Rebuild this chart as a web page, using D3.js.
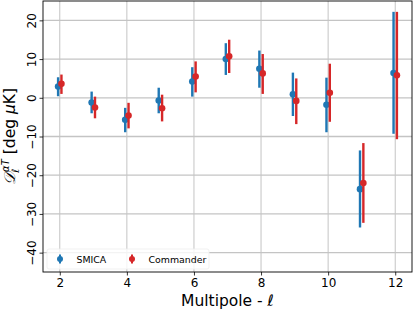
<!DOCTYPE html>
<html>
<head>
<meta charset="utf-8">
<script src="https://cdn.jsdelivr.net/npm/d3@7"></script>
<style>
  body { margin: 0; background: #fff; }
  text { font-family: "DejaVu Sans", sans-serif; }
</style>
</head>
<body>
<div id="chart"></div>
<script>
// multipoles
const ells = [2, 3, 4, 5, 6, 7, 8, 9, 10, 11, 12];

// SMICA: value, lower end, upper end of error bar
const smica_val = [2.9, -1.2, -5.7, -0.7, 4.2, 10.0, 7.5, 0.9, -1.8, -23.6, 6.4];
const smica_lo  = [0.4, -4.0, -8.9, -4.0, 0.3, 5.9, 2.6, -4.7, -8.9, -33.5, -9.3];
const smica_hi  = [5.3, 1.6, -2.6, 2.6, 7.9, 14.1, 12.2, 6.5, 5.2, -13.6, 22.2];

// Commander
const comm_val = [3.6, -2.5, -4.6, -2.7, 5.5, 10.7, 6.3, -0.8, 1.3, -22.0, 5.8];
const comm_lo  = [1.0, -5.3, -7.9, -6.1, 1.4, 6.4, 1.0, -6.8, -6.2, -32.3, -10.7];
const comm_hi  = [6.0, 0.3, -1.3, 0.8, 9.4, 15.0, 11.3, 5.0, 8.8, -11.7, 22.2];

const xticks = [2, 4, 6, 8, 10, 12];
const yticks = [-40, -30, -20, -10, 0, 10, 20];

const width = 413, height = 310;
const margin = {top: 1, right: 1, bottom: 38, left: 43};
const w = width - margin.left - margin.right,
      h = height - margin.top - margin.bottom;

const svg = d3.select("#chart").append("svg")
    .attr("width", width)
    .attr("height", height);

const g = svg.append("g")
    .attr("transform", "translate(" + margin.left + "," + margin.top + ")");

const x = d3.scaleLinear().domain([1.5, 12.5]).range([0, w]);
const y = d3.scaleLinear().domain([-45, 25]).range([h, 0]);

// grid
g.append("g").selectAll("line").data(xticks).join("line")
    .attr("x1", d => x(d)).attr("x2", d => x(d))
    .attr("y1", 0).attr("y2", h)
    .attr("stroke", "#c4c4c4").attr("stroke-width", 1);
g.append("g").selectAll("line").data(yticks).join("line")
    .attr("x1", 0).attr("x2", w)
    .attr("y1", d => y(d)).attr("y2", d => y(d))
    .attr("stroke", "#c4c4c4").attr("stroke-width", 1.3);

// series
const series = [
  {name: "SMICA", color: "#1f77b4", off: -0.05, val: smica_val, lo: smica_lo, hi: smica_hi},
  {name: "Commander", color: "#d62728", off: 0.05, val: comm_val, lo: comm_lo, hi: comm_hi}
];

series.forEach(s => {
  const pts = ells.map((l, i) => ({l: l + s.off, v: s.val[i], lo: s.lo[i], hi: s.hi[i]}));
  const sg = g.append("g");
  sg.selectAll("line").data(pts).join("line")
      .attr("x1", d => x(d.l)).attr("x2", d => x(d.l))
      .attr("y1", d => y(d.lo)).attr("y2", d => y(d.hi))
      .attr("stroke", s.color).attr("stroke-width", 2.4);
  sg.selectAll("circle").data(pts).join("circle")
      .attr("cx", d => x(d.l)).attr("cy", d => y(d.v))
      .attr("r", 3.3).attr("fill", s.color);
});

// legend
const leg = g.append("g").attr("transform", "translate(4," + (h - 23) + ")");
leg.append("rect")
    .attr("width", 162).attr("height", 20).attr("rx", 2)
    .attr("fill", "#fff").attr("fill-opacity", 0.8)
    .attr("stroke", "#eeeeee").attr("stroke-width", 0.8);
const legItems = [{s: series[0], x: 13}, {s: series[1], x: 85}];
legItems.forEach(it => {
  leg.append("line")
      .attr("x1", it.x).attr("x2", it.x).attr("y1", 5.5).attr("y2", 14.5)
      .attr("stroke", it.s.color).attr("stroke-width", 2);
  leg.append("circle").attr("cx", it.x).attr("cy", 10).attr("r", 3)
      .attr("fill", it.s.color);
  leg.append("text").attr("x", it.x + 16.5).attr("y", 13.5)
      .attr("font-size", 9.4).attr("fill", "#000").text(it.s.name);
});

// axes
const xAxis = g.append("g")
    .attr("transform", "translate(0," + h + ")")
    .call(d3.axisBottom(x).tickValues(xticks).tickSize(3.5).tickPadding(3));
const yAxis = g.append("g")
    .call(d3.axisLeft(y).tickValues(yticks).tickSize(3.5).tickPadding(3)
      .tickFormat(d => d < 0 ? "\u2212" + Math.abs(d) : d));
[xAxis, yAxis].forEach(a => {
  a.select(".domain").remove();
  a.selectAll("line").attr("stroke", "#000").attr("stroke-width", 0.8);
  a.selectAll("text").attr("font-size", 12).attr("fill", "#000")
      .style("font-family", "DejaVu Sans, sans-serif");
});
yAxis.selectAll(".tick text")
    .attr("text-anchor", "middle")
    .attr("dominant-baseline", "central")
    .attr("x", null).attr("dy", null)
    .attr("transform", "translate(-11,0) rotate(-90)");

// frame
g.append("rect").attr("width", w).attr("height", h)
    .attr("fill", "none").attr("stroke", "#000").attr("stroke-width", 0.9);

// axis labels
svg.append("text")
    .attr("x", margin.left + w / 2).attr("y", 306)
    .attr("text-anchor", "middle").attr("font-size", 15.5)
    .html('Multipole - <tspan font-style="italic">\u2113</tspan>');

const yl = svg.append("text")
    .attr("transform", "translate(15," + (margin.top + h / 2) + ") rotate(-90)")
    .attr("text-anchor", "middle").attr("font-size", 15.5);
yl.append("tspan").text("\uD835\uDC9F").style("font-family", "DejaVu Serif, serif").attr("font-style", "italic");
yl.append("tspan").text("\u2113").attr("font-size", 10).attr("font-style", "italic").attr("dy", 4);
yl.append("tspan").text("\u03B1T").attr("font-size", 10).attr("font-style", "italic").attr("dx", -3).attr("dy", -10);
yl.append("tspan").text(" [deg ").attr("dy", 6);
yl.append("tspan").text("\u03BC").attr("font-style", "italic");
yl.append("tspan").text("K]");
</script>
</body>
</html>
